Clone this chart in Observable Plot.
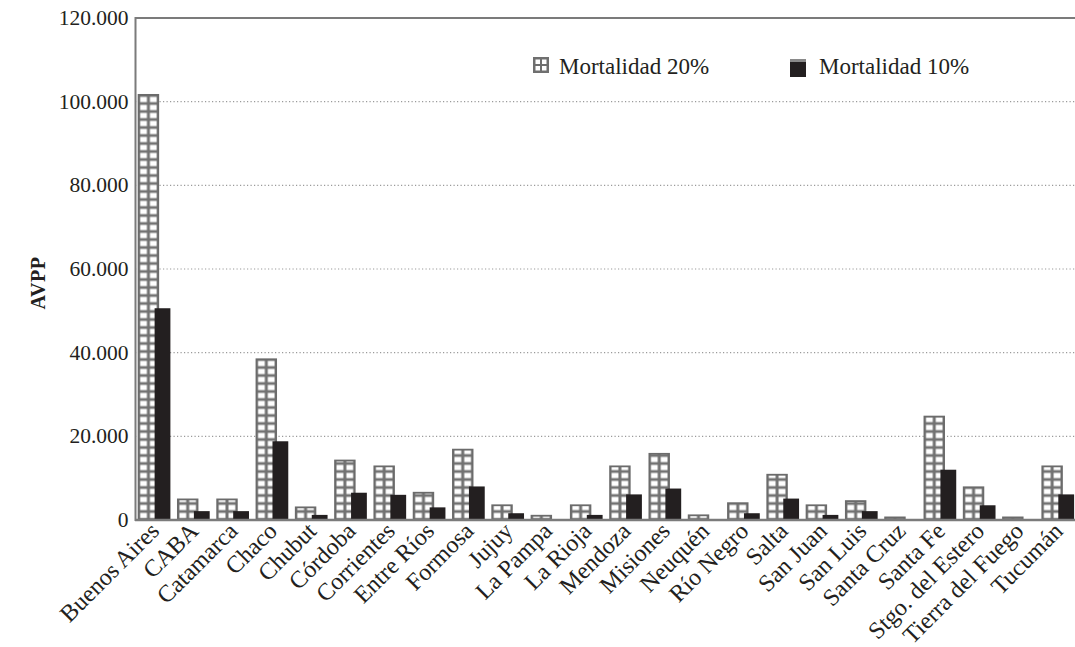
<!DOCTYPE html>
<html><head><meta charset="utf-8">
<script src="https://cdn.jsdelivr.net/npm/d3@7"></script>
<script src="https://cdn.jsdelivr.net/npm/@observablehq/plot@0.6"></script>
<style>
html,body{margin:0;padding:0;background:#fff;overflow:hidden;}
#wrap{position:relative;width:1075px;height:647px;overflow:hidden;color:#231f20;}
#wrap svg{display:block;}
</style></head><body><div id="wrap"></div>
<script>
const provinces = ["Buenos Aires","CABA","Catamarca","Chaco","Chubut","Córdoba","Corrientes","Entre Ríos","Formosa","Jujuy","La Pampa","La Rioja","Mendoza","Misiones","Neuquén","Río Negro","Salta","San Juan","San Luis","Santa Cruz","Santa Fe","Stgo. del Estero","Tierra del Fuego","Tucumán"];
const mort20 = [101500,4800,4800,38300,2900,14100,12700,6400,16700,3400,900,3400,12700,15700,1000,3900,10700,3400,4400,500,24600,7700,500,12700];
const mort10 = [50500,2000,2000,18700,1100,6400,5900,2900,7900,1500,0,1100,6000,7400,0,1500,5000,1100,2000,0,11900,3400,0,6000];
const yTicks = [0,20000,40000,60000,80000,100000,120000];
const seriesNames = ["Mortalidad 20%","Mortalidad 10%"];
const yTitle = "AVPP";

const FONT = "'Liberation Serif', 'Times New Roman', serif";
const fmt = d3.formatLocale({decimal:",", thousands:".", grouping:[3], currency:["$",""]}).format(",d");

const W = 1078, H = 647, ML = 135, MR = 0, MT = 17.5, MB = 127.5;
const bw = (W - ML - MR) / provinces.length;
const pw = bw / 4;            // pattern cell width
const in20L = 3.6, in20R = bw - in20L - 2 * pw;
const in10L = 19.6, in10R = bw - 35.4;

const d20 = provinces.map((p, i) => ({p, v: mort20[i], s: seriesNames[0]}));
const d10 = provinces.map((p, i) => ({p, v: mort10[i], s: seriesNames[1]}));

const chart = Plot.plot({
  width: W, height: H,
  marginLeft: ML, marginRight: MR, marginTop: MT, marginBottom: MB,
  style: {fontFamily: FONT, fontSize: "21px", color: "#231f20", maxWidth: "none", overflow: "visible", background: "#fff"},
  x: {domain: provinces, padding: 0, round: false, label: null},
  y: {domain: [0, 120000], label: null},
  marks: [
    Plot.ruleY(yTicks.slice(1, -1), {stroke: "#9a9a9a", strokeDasharray: "1.2,2.3", strokeWidth: 1.2}),
    Plot.barY(d20, {x: "p", y: "v", fill: "url(#grid20)", stroke: "#6b6b6b", strokeWidth: 1.8, insetLeft: in20L, insetRight: in20R}),
    Plot.barY(d10, {x: "p", y: "v", fill: "#231f20", insetLeft: in10L, insetRight: in10R}),
    Plot.frame({stroke: "#7b7b7b", strokeWidth: 2}),
    Plot.ruleY([0], {stroke: "#7b7b7b", strokeWidth: 2.5}),
    Plot.axisY({ticks: yTicks, tickFormat: fmt, tickSize: 0, tickPadding: 7, label: null, fontSize: 21.5}),
    Plot.axisX({tickSize: 0, tickRotate: -45, tickPadding: 7, label: null, fontSize: 24})
  ]
});

const ns = "http://www.w3.org/2000/svg";
const xs = chart.scale("x"), ys = chart.scale("y");
function el(tag, attrs, parent) {
  const e = document.createElementNS(ns, tag);
  for (const k in attrs) e.setAttribute(k, attrs[k]);
  if (parent) parent.appendChild(e);
  return e;
}
// pattern for the 20% bars, aligned with the bands
const defs = el("defs", {});
chart.insertBefore(defs, chart.firstChild);
const pat = el("pattern", {id: "grid20", patternUnits: "userSpaceOnUse", x: xs.apply(provinces[0]) + in20L, y: ys.apply(0), width: pw, height: 8}, defs);
el("rect", {width: pw, height: 8, fill: "#727272"}, pat);
el("rect", {x: 1.5, y: 1.4, width: pw - 3, height: 8 - 2.8, fill: "#fff"}, pat);

// y title
const g = el("g", {"font-family": FONT, fill: "#231f20", "text-anchor": "start"}, chart);
const yt = el("text", {transform: "translate(45,283) rotate(-90)", "text-anchor": "middle", "font-weight": "bold", "font-size": 20, "letter-spacing": 0.5}, g);
yt.textContent = yTitle;

// legend
el("rect", {x: 533, y: 57, width: 16, height: 16, fill: "#6f6f6f"}, g);
for (const [dx, dy] of [[2.5,2.5],[9,2.5],[2.5,9],[9,9]]) el("rect", {x: 533 + dx, y: 57 + dy, width: 4.5, height: 4.5, fill: "#fff"}, g);
const l1 = el("text", {x: 559, y: 74, "font-size": 23, "text-anchor": "start"}, g); l1.textContent = seriesNames[0];
el("rect", {x: 790, y: 59, width: 16, height: 18, fill: "#231f20"}, g);
el("rect", {x: 790, y: 59, width: 16, height: 3, fill: "#8a8a8a"}, g);
const l2 = el("text", {x: 819, y: 74, "font-size": 23, "text-anchor": "start"}, g); l2.textContent = seriesNames[1];

document.getElementById("wrap").appendChild(chart);
</script>
</body></html>
